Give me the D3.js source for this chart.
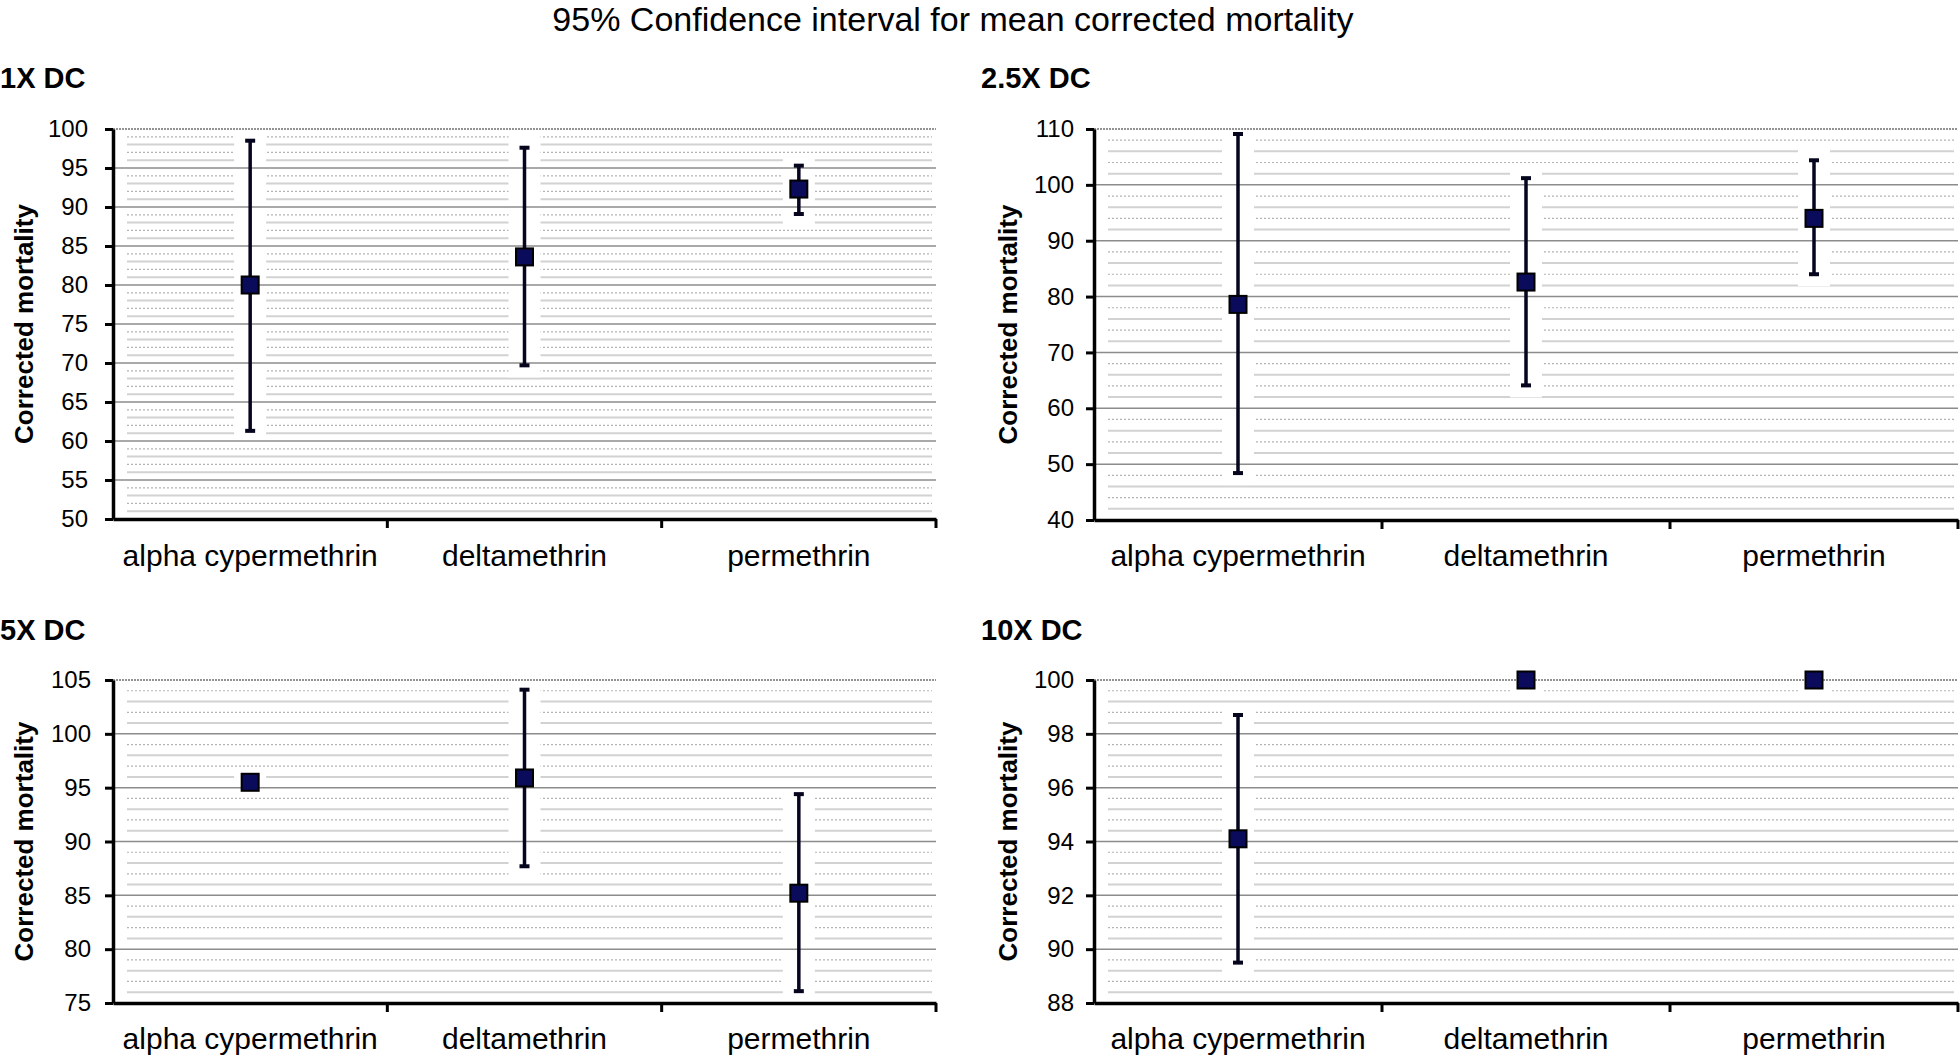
<!DOCTYPE html>
<html>
<head>
<meta charset="utf-8">
<script src="https://cdn.jsdelivr.net/npm/d3@7"></script>
<style>
  html, body { margin: 0; padding: 0; background: #fff; }
  svg { display: block; }
  text { font-family: "Liberation Sans", Arial, sans-serif; fill: #000; }
</style>
</head>
<body>
<svg id="chart" width="1960" height="1058"></svg>
<script>
// ---------------- DATA ----------------
const chartTitle = "95% Confidence interval for mean corrected mortality";
const yAxisTitle = "Corrected mortality";
const categories = ["alpha cypermethrin", "deltamethrin", "permethrin"];
const panelTitles = ["1X DC", "2.5X DC", "5X DC", "10X DC"];

const mean1X = [80.0, 83.6, 92.3];
const lower1X = [61.3, 69.7, 89.1];
const upper1X = [98.5, 97.6, 95.3];
const ticks1X = [50, 55, 60, 65, 70, 75, 80, 85, 90, 95, 100];

const mean2_5X = [78.6, 82.6, 94.0];
const lower2_5X = [48.4, 64.1, 84.0];
const upper2_5X = [109.1, 101.2, 104.4];
const ticks2_5X = [40, 50, 60, 70, 80, 90, 100, 110];

const mean5X = [95.5, 95.9, 85.2];
const lower5X = [95.5, 87.7, 76.1];
const upper5X = [95.5, 104.1, 94.4];
const ticks5X = [75, 80, 85, 90, 95, 100, 105];

const mean10X = [94.1, 100, 100];
const lower10X = [89.5, 100, 100];
const upper10X = [98.7, 100, 100];
const ticks10X = [88, 90, 92, 94, 96, 98, 100];

const panelMeans = [mean1X, mean2_5X, mean5X, mean10X];
const panelLower = [lower1X, lower2_5X, lower5X, lower10X];
const panelUpper = [upper1X, upper2_5X, upper5X, upper10X];
const panelTicks = [ticks1X, ticks2_5X, ticks5X, ticks10X];

// ---------------- LAYOUT ----------------
const layouts = [
  {x0: 113,  x1: 936,  y0: 129, y1: 519,  titleX: 0,   titleY: 88,  ylabX: 24,   tickPad: 17, catY: 566},
  {x0: 1094, x1: 1958, y0: 129, y1: 520,  titleX: 981, titleY: 88,  ylabX: 1008, tickPad: 12, catY: 566},
  {x0: 113,  x1: 936,  y0: 680, y1: 1003, titleX: 0,   titleY: 640, ylabX: 24,   tickPad: 14, catY: 1049},
  {x0: 1094, x1: 1958, y0: 680, y1: 1003, titleX: 981, titleY: 640, ylabX: 1008, tickPad: 12, catY: 1049}
];

const svg = d3.select("#chart");

svg.append("text")
  .attr("x", 953).attr("y", 31)
  .attr("text-anchor", "middle")
  .style("font-size", "34px")
  .text(chartTitle);

layouts.forEach((L, p) => {
  const ticks = panelTicks[p];
  const tMin = d3.min(ticks), tMax = d3.max(ticks);
  const step = ticks[1] - ticks[0];
  const y = d3.scaleLinear().domain([tMin, tMax]).range([L.y1, L.y0]);
  const x = d3.scaleBand().domain(categories).range([L.x0, L.x1]).padding(0);
  const g = svg.append("g");

  // minor gridlines
  const minorStep = step / 5;
  const minorVals = d3.range(1, Math.round((tMax - tMin) / minorStep))
    .map(i => tMin + i * minorStep)
    .filter((v, i) => (i + 1) % 5 !== 0);
  g.selectAll("line.minor").data(minorVals).enter().append("line")
    .attr("x1", L.x0 + 14).attr("x2", L.x1 - 4)
    .attr("y1", d => y(d)).attr("y2", d => y(d))
    .attr("stroke", (d, i) => i % 2 === 0 ? "#d2d2d2" : "#b4b4b4")
    .attr("stroke-width", (d, i) => i % 2 === 0 ? 2 : 1.2)
    .attr("stroke-dasharray", (d, i) => i % 2 === 0 ? null : "2,2");

  // white halo bands behind error bars
  g.selectAll("rect.halo").data(categories).enter().append("rect")
    .attr("x", d => x(d) + x.bandwidth() / 2 - 16)
    .attr("width", 32)
    .attr("y", (d, i) => y(panelUpper[p][i]) - 12)
    .attr("height", (d, i) => y(panelLower[p][i]) - y(panelUpper[p][i]) + 24)
    .attr("fill", "#fff");

  // major gridlines
  g.selectAll("line.major").data(ticks.filter(t => t !== tMin)).enter().append("line")
    .attr("x1", L.x0).attr("x2", L.x1)
    .attr("y1", d => y(d)).attr("y2", d => y(d))
    .attr("stroke", d => d === tMax ? "#707070" : "#8c8c8c")
    .attr("stroke-width", 1.5)
    .attr("stroke-dasharray", d => d === tMax ? "2,1" : null);

  // y axis
  const yAxis = d3.axisLeft(y).tickValues(ticks).tickSize(8).tickSizeOuter(0).tickPadding(L.tickPad);
  const ya = g.append("g").attr("transform", `translate(${L.x0},0)`).call(yAxis);
  ya.select(".domain").attr("stroke", "#000").attr("stroke-width", 3.5);
  ya.selectAll(".tick line").attr("stroke", "#000").attr("stroke-width", 3);
  ya.selectAll(".tick text").style("font-size", "24px").style("font-family", '"Liberation Sans", Arial, sans-serif');

  // x axis
  const xAxis = d3.axisBottom(x).tickSize(0).tickSizeOuter(0).tickPadding(0);
  const xa = g.append("g").attr("transform", `translate(0,${L.y1})`).call(xAxis);
  xa.select(".domain").attr("stroke", "#000").attr("stroke-width", 3.5);
  xa.selectAll(".tick text")
    .attr("dy", null).attr("y", L.catY - L.y1)
    .style("font-size", "30px").style("font-family", '"Liberation Sans", Arial, sans-serif');
  xa.selectAll("line.bound").data(categories).enter().append("line")
    .attr("x1", d => x(d) + x.bandwidth()).attr("x2", d => x(d) + x.bandwidth())
    .attr("y1", 0).attr("y2", 9)
    .attr("stroke", "#000").attr("stroke-width", 3);

  // error bars
  const eb = g.append("g");
  categories.forEach((c, i) => {
    const cx = x(c) + x.bandwidth() / 2;
    const lo = panelLower[p][i], hi = panelUpper[p][i];
    if (hi > lo) {
      eb.append("line").attr("x1", cx).attr("x2", cx)
        .attr("y1", y(hi)).attr("y2", y(lo))
        .attr("stroke", "#05051e").attr("stroke-width", 3.5);
      [hi, lo].forEach(v => {
        eb.append("line").attr("x1", cx - 5).attr("x2", cx + 5)
          .attr("y1", y(v)).attr("y2", y(v))
          .attr("stroke", "#05051e").attr("stroke-width", 4);
      });
    }
  });

  // markers
  g.selectAll("rect.marker").data(categories).enter().append("rect")
    .attr("x", d => x(d) + x.bandwidth() / 2 - 8.5)
    .attr("y", (d, i) => y(panelMeans[p][i]) - 8.5)
    .attr("width", 17).attr("height", 17)
    .attr("fill", "#0b0b5c").attr("stroke", "#000").attr("stroke-width", 2);

  // panel title
  svg.append("text")
    .attr("x", L.titleX).attr("y", L.titleY)
    .style("font-size", "29px").style("font-weight", "bold")
    .text(panelTitles[p]);

  // y axis title
  svg.append("text")
    .attr("transform", `translate(${L.ylabX + 9},${(L.y0 + L.y1) / 2}) rotate(-90)`)
    .attr("text-anchor", "middle")
    .style("font-size", "26px").style("font-weight", "bold")
    .text(yAxisTitle);
});
</script>
</body>
</html>
